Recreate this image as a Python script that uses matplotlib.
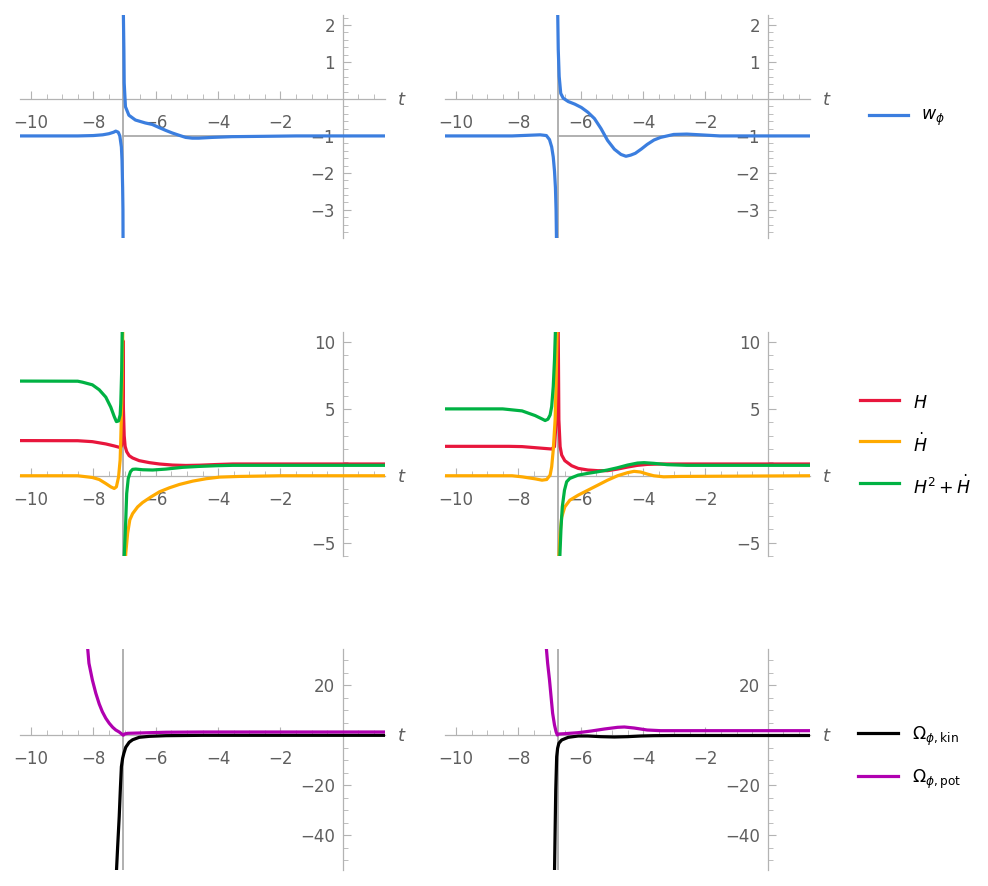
import matplotlib
matplotlib.use("Agg")
import matplotlib.pyplot as plt
from matplotlib.lines import Line2D
from matplotlib.ticker import FixedLocator, MultipleLocator

plt.rcParams['font.family'] = ['DejaVu Sans']
plt.rcParams['mathtext.fontset'] = 'dejavusans'

# ---------------- data ----------------
# Row 1 : w_phi, model A (left) and model B (right); two branches each
wA_t1 = [-10.35, -8.5, -8.0, -7.7, -7.5, -7.35, -7.28, -7.2, -7.15, -7.1, -7.08, -7.06, -7.05, -7.045]
wA_y1 = [-1.0, -1.0, -0.99, -0.97, -0.94, -0.9, -0.87, -0.9, -1.0, -1.3, -1.66, -2.4, -3.0, -4.2]
wA_t2 = [-7.04, -7.02, -7.01, -6.97, -6.86, -6.65, -6.33, -6.11, -5.9, -5.68, -5.47, -5.26, -5.04, -4.83, -4.62, -4.19, -3.55, -2.48, -1.5, 1.35]
wA_y2 = [2.5, 1.34, 0.43, -0.21, -0.44, -0.57, -0.65, -0.69, -0.77, -0.85, -0.92, -0.98, -1.04, -1.06, -1.06, -1.04, -1.02, -1.01, -1.0, -1.0]

wB_t1 = [-10.35, -8.2, -7.6, -7.3, -7.1, -7.0, -6.93, -6.88, -6.84, -6.81, -6.79, -6.77]
wB_y1 = [-1.0, -1.0, -0.98, -0.97, -0.99, -1.1, -1.3, -1.57, -1.95, -2.4, -3.0, -4.2]
wB_t2 = [-6.74, -6.72, -6.69, -6.64, -6.56, -6.40, -6.19, -5.98, -5.77, -5.56, -5.35, -5.14, -4.92, -4.71, -4.55, -4.40, -4.25, -4.05, -3.87, -3.65, -3.44, -3.02, -2.60, -2.17, -1.54, 1.35]
wB_y2 = [2.5, 1.34, 0.61, 0.15, 0.02, -0.07, -0.14, -0.23, -0.36, -0.53, -0.8, -1.12, -1.36, -1.5, -1.55, -1.52, -1.47, -1.35, -1.23, -1.11, -1.04, -0.96, -0.95, -0.97, -1.0, -1.0]

# Row 2 : H, dH, H^2+dH
HA_t = [-10.35, -8.5, -8.03, -7.6, -7.33, -7.17, -7.12, -7.09, -7.065, -7.05, -7.035, -7.01, -6.98, -6.93, -6.85, -6.74, -6.53, -6.2, -5.88, -5.46, -5.03, -4.6, -4.06, -3.53, 1.35]
HA_y = [2.63, 2.62, 2.55, 2.38, 2.23, 2.13, 2.15, 2.3, 6.0, 10.1, 5.0, 3.0, 2.2, 1.8, 1.5, 1.33, 1.13, 0.98, 0.88, 0.8, 0.77, 0.79, 0.84, 0.88, 0.88]
dHA_t1 = [-10.35, -8.5, -8.03, -7.81, -7.6, -7.44, -7.33, -7.26, -7.19, -7.14, -7.12, -7.09, -7.07, -7.05]
dHA_y1 = [0.0, 0.0, -0.13, -0.28, -0.58, -0.83, -0.95, -0.83, -0.08, 1.18, 2.68, 5.4, 7.9, 12.0]
dHA_t2 = [-6.99, -6.96, -6.90, -6.83, -6.74, -6.58, -6.42, -6.15, -5.88, -5.56, -5.24, -4.81, -4.38, -3.95, -3.31, -2.0, 1.35]
dHA_y2 = [-7.0, -5.8, -4.3, -3.3, -2.83, -2.33, -2.0, -1.58, -1.2, -0.9, -0.65, -0.4, -0.22, -0.1, -0.05, 0.0, 0.0]
GA_t1 = [-10.35, -8.5, -8.35, -8.03, -7.81, -7.6, -7.44, -7.33, -7.26, -7.19, -7.14, -7.12, -7.09, -7.07]
GA_y1 = [7.08, 7.07, 7.0, 6.8, 6.43, 5.88, 5.13, 4.43, 4.05, 4.1, 4.55, 5.4, 7.9, 11.5]
GA_t2 = [-7.02, -7.01, -6.96, -6.93, -6.88, -6.81, -6.74, -6.64, -6.42, -6.1, -5.67, -5.14, -4.6, -4.06, -3.53, 1.35]
GA_y2 = [-7.0, -6.1, -3.33, -1.33, -0.2, 0.3, 0.48, 0.5, 0.45, 0.43, 0.5, 0.63, 0.7, 0.75, 0.78, 0.78]

HB_t = [-10.35, -8.3, -7.88, -7.46, -7.09, -6.93, -6.84, -6.79, -6.755, -6.73, -6.7, -6.66, -6.61, -6.51, -6.29, -6.08, -5.77, -5.45, -5.14, -4.82, -4.5, -4.18, -3.87, -3.44, 1.35]
HB_y = [2.2, 2.2, 2.18, 2.1, 2.03, 2.0, 2.18, 4.0, 9.0, 14.0, 4.2, 2.18, 1.55, 1.13, 0.75, 0.55, 0.43, 0.38, 0.38, 0.5, 0.65, 0.78, 0.85, 0.88, 0.88]
dHB_t1 = [-10.35, -8.2, -7.88, -7.46, -7.24, -7.09, -6.98, -6.93, -6.88, -6.82, -6.79, -6.76, -6.745]
dHB_y1 = [0.0, 0.0, -0.08, -0.23, -0.33, -0.28, 0.05, 0.68, 1.93, 4.2, 6.7, 10.4, 12.0]
dHB_t2 = [-6.71, -6.70, -6.66, -6.61, -6.51, -6.35, -6.08, -5.77, -5.45, -5.14, -4.82, -4.5, -4.29, -4.08, -3.87, -3.66, -3.34, -2.81, 1.35]
dHB_y2 = [-7.0, -6.1, -4.3, -3.1, -2.33, -1.83, -1.45, -1.08, -0.7, -0.33, 0.0, 0.23, 0.33, 0.28, 0.13, 0.0, -0.08, -0.05, 0.0]
GB_t1 = [-10.35, -8.5, -7.88, -7.46, -7.24, -7.14, -7.05, -6.98, -6.93, -6.88, -6.84, -6.81, -6.80]
GB_y1 = [5.0, 5.0, 4.85, 4.5, 4.25, 4.13, 4.23, 4.55, 5.18, 6.68, 8.68, 10.9, 12.0]
GB_t2 = [-6.68, -6.67, -6.63, -6.59, -6.52, -6.45, -6.35, -6.08, -5.77, -5.45, -5.14, -4.82, -4.5, -4.18, -3.97, -3.66, -3.23, -2.6, 1.35]
GB_y2 = [-7.0, -6.1, -3.83, -2.33, -1.08, -0.45, -0.2, 0.05, 0.18, 0.3, 0.43, 0.6, 0.8, 0.95, 0.98, 0.93, 0.83, 0.78, 0.78]

# Row 3 : Omega_kin, Omega_pot
KA_t = [-7.27, -7.26, -7.22, -7.17, -7.13, -7.1, -7.06, -7.02, -6.96, -6.85, -6.74, -6.53, -6.2, -5.67, -4.5, 1.35]
KA_y = [-60.0, -55.0, -44.7, -32.7, -20.7, -12.7, -9.3, -7.3, -4.9, -2.9, -1.9, -0.93, -0.53, -0.27, -0.13, -0.13]
PA_t = [-8.2, -8.19, -8.14, -8.03, -7.92, -7.81, -7.71, -7.6, -7.49, -7.38, -7.28, -7.17, -7.09, -7.04, -7.0, -6.9, -6.53, -5.67, -4.5, 1.35]
PA_y = [38.0, 36.0, 28.7, 22.0, 16.7, 12.4, 9.3, 6.7, 4.7, 3.1, 2.0, 1.2, 0.4, -0.1, 0.4, 0.67, 0.8, 1.1, 1.2, 1.2]

KB_t = [-6.845, -6.84, -6.82, -6.8, -6.77, -6.74, -6.7, -6.61, -6.4, -6.08, -5.77, -5.35, -4.92, -4.5, -4.08, -3.66, -3.0, 1.35]
KB_y = [-60.0, -55.0, -38.0, -22.0, -8.7, -5.3, -3.3, -2.0, -0.93, -0.4, -0.4, -0.67, -0.8, -0.67, -0.4, -0.27, -0.2, -0.2]
PB_t = [-7.12, -7.11, -7.06, -7.0, -6.95, -6.9, -6.84, -6.79, -6.75, -6.7, -6.51, -6.08, -5.66, -5.24, -4.82, -4.6, -4.29, -3.87, -3.44, 1.35]
PB_y = [38.0, 36.0, 28.7, 22.0, 15.3, 8.7, 4.0, 1.33, 0.0, 0.4, 0.53, 0.93, 1.6, 2.4, 3.07, 3.2, 2.8, 2.0, 1.73, 1.73]

# singular times (gray exclusion lines), left / right models
t_sing = [-7.05, -6.73]

# axes settings
x_lim = (-10.35, 1.35)
x_major = [-10, -8, -6, -4, -2]
y_lims = [(-3.76, 2.27), (-6.0, 10.75), (-54.0, 34.4)]
y_major = [[-3, -2, -1, 1, 2], [-5, 5, 10], [-40, -20, 20]]
y_minor_step = [0.2, 1.0, 5.0]

# colours
c_w = '#3B7EDF'
c_H = '#E8163C'
c_dH = '#FFAA00'
c_G = '#00B243'
c_K = '#000000'
c_P = '#B000B0'
axis_col = '#b3b3b3'
lab_col = '#5f5f5f'

# ---------------- figure ----------------
W, Hh = 988, 886
fig = plt.figure(figsize=(W / 100, Hh / 100), dpi=100)

col_x = [20, 445]
col_w = 365
row_top = [15, 332, 649]
row_bot = [238, 556, 870]

lw = 2.3


def make_ax(r, c):
    ax = fig.add_axes([col_x[c] / W, (Hh - row_bot[r]) / Hh, col_w / W, (row_bot[r] - row_top[r]) / Hh])
    ax.set_xlim(*x_lim)
    ax.set_ylim(*y_lims[r])
    for s in ['top', 'right']:
        ax.spines[s].set_visible(False)
    ax.spines['left'].set_position(('data', 0))
    ax.spines['bottom'].set_position(('data', 0))
    for s in ['left', 'bottom']:
        ax.spines[s].set_color(axis_col)
        ax.spines[s].set_linewidth(0.9)
        ax.spines[s].set_zorder(0.5)
    ax.xaxis.set_major_locator(FixedLocator(x_major))
    ax.xaxis.set_minor_locator(MultipleLocator(0.5))
    ax.yaxis.set_major_locator(FixedLocator(y_major[r]))
    ax.yaxis.set_minor_locator(MultipleLocator(y_minor_step[r]))
    ax.tick_params(which='major', direction='in', length=6, width=0.8, colors=axis_col,
                   labelcolor=lab_col, labelsize=12)
    ax.tick_params(which='minor', direction='in', length=3.5, width=0.6, colors=axis_col)
    ax.tick_params(axis='x', which='major', pad=11)
    ax.tick_params(axis='y', which='major', pad=5.5)
    ax.patch.set_alpha(0)
    ax.annotate('t', xy=(1, 0), xycoords=('axes fraction', 'data'), xytext=(16, -1),
                textcoords='offset pixels', ha='center', va='center', style='italic',
                color=lab_col, fontsize=13, annotation_clip=False)
    return ax


axes = [[make_ax(r, c) for c in range(2)] for r in range(3)]

# gray exclusion lines
for c in range(2):
    ts = t_sing[c]
    for r in range(3):
        axes[r][c].axvline(ts, color='#aaaaaa', lw=1.3, zorder=1)
    axes[0][c].plot([ts, 0], [-1, -1], color='#aaaaaa', lw=1.3, zorder=1)

# row 1
for c, (t1, y1, t2, y2) in enumerate([(wA_t1, wA_y1, wA_t2, wA_y2), (wB_t1, wB_y1, wB_t2, wB_y2)]):
    ax = axes[0][c]
    ax.plot(t1, y1, color=c_w, lw=lw, zorder=3, solid_capstyle='butt')
    ax.plot(t2, y2, color=c_w, lw=lw, zorder=3, solid_capstyle='butt')

# row 2
row2 = [(HA_t, HA_y, dHA_t1, dHA_y1, dHA_t2, dHA_y2, GA_t1, GA_y1, GA_t2, GA_y2),
        (HB_t, HB_y, dHB_t1, dHB_y1, dHB_t2, dHB_y2, GB_t1, GB_y1, GB_t2, GB_y2)]
for c, (ht, hy, d1t, d1y, d2t, d2y, g1t, g1y, g2t, g2y) in enumerate(row2):
    ax = axes[1][c]
    ax.plot(ht, hy, color=c_H, lw=lw, zorder=3)
    ax.plot(d1t, d1y, color=c_dH, lw=lw, zorder=4)
    ax.plot(d2t, d2y, color=c_dH, lw=lw, zorder=4)
    ax.plot(g1t, g1y, color=c_G, lw=lw, zorder=5)
    ax.plot(g2t, g2y, color=c_G, lw=lw, zorder=5)

# row 3
for c, (kt, ky, pt, py) in enumerate([(KA_t, KA_y, PA_t, PA_y), (KB_t, KB_y, PB_t, PB_y)]):
    ax = axes[2][c]
    ax.plot(kt, ky, color=c_K, lw=lw, zorder=3)
    ax.plot(pt, py, color=c_P, lw=lw, zorder=4)

# ---------------- legends ----------------
def leg_entry(x0, x1, y, color, label, xt):
    fig.add_artist(Line2D([x0 / W, x1 / W], [1 - y / Hh, 1 - y / Hh], color=color, lw=lw,
                          transform=fig.transFigure))
    fig.text(xt / W, 1 - (y + 3) / Hh, label, ha='left', va='center', fontsize=12.5, color='black')

leg_entry(869, 908, 115, c_w, r'$w_{\phi}$', 921)
leg_entry(860, 899, 400, c_H, r'$H$', 913)
leg_entry(860, 899, 441, c_dH, r'$\dot{H}$', 913)
leg_entry(860, 899, 483, c_G, r'$H^2+\dot{H}$', 913)
leg_entry(858, 898, 733, c_K, r'$\Omega_{\phi,\mathrm{kin}}$', 912)
leg_entry(858, 898, 776, c_P, r'$\Omega_{\phi,\mathrm{pot}}$', 912)

fig.savefig('out.png', dpi=100)
